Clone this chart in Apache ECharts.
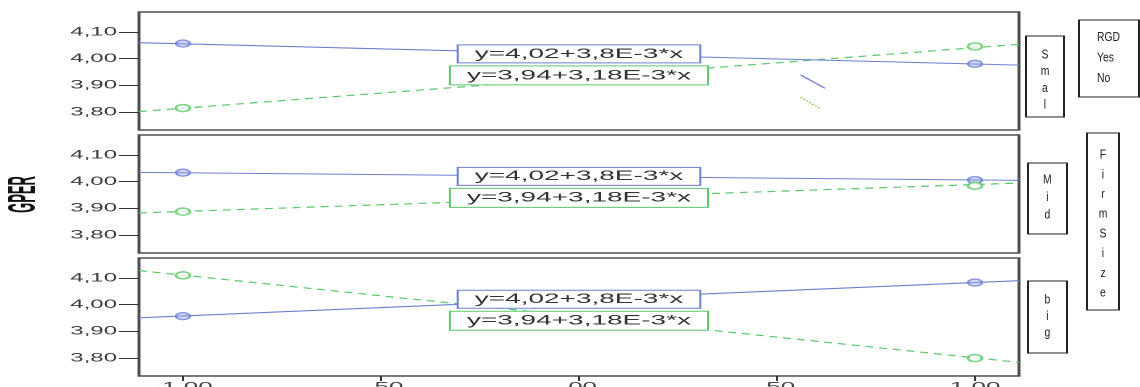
<!DOCTYPE html>
<html><head><meta charset="utf-8">
<script src="https://cdn.jsdelivr.net/npm/echarts@6/dist/echarts.min.js"></script>
<style>
html,body{margin:0;padding:0;background:#fff;overflow:hidden;}
#wrap{width:1140px;height:387px;overflow:hidden;position:relative;background:#fff;}
#chart{width:570px;height:387px;transform:scaleX(2);transform-origin:0 0;}
</style></head><body><div id="wrap"><div id="chart"></div></div>
<script>
// ---- data ----
const panelNames = ['Smal', 'Mid', 'big'];
const meanX = [-1, 1];
const xTicks = [-1, -0.5, 0, 0.5, 1];
const xTickLabels = ['-1,00', '-,50', ',00', ',50', '1,00'];
const yTicks = [3.8, 3.9, 4.0, 4.1];
const xRange = [-1.111, 1.111];
const yRange = [3.733, 4.175];
// group means (RGD Yes = blue, RGD No = green)
const smalYes = [4.057, 3.981];
const smalNo  = [3.815, 4.046];
const midYes  = [4.034, 4.006];
const midNo   = [3.888, 3.985];
const bigYes  = [3.957, 4.083];
const bigNo   = [4.110, 3.800];
// fit-line values where the lines meet the left / right frame
const smalYesFit = [4.060, 3.976];
const smalNoFit  = [3.802, 4.054];
const midYesFit  = [4.035, 4.005];
const midNoFit   = [3.883, 3.995];
const bigYesFit  = [3.951, 4.090];
const bigNoFit   = [4.128, 3.784];
const yesFitLabel = 'y=4,02+3,8E-3*x';
const noFitLabel  = 'y=3,94+3,18E-3*x';
const legendTitle = 'RGD';
const legendItems = ['Yes', 'No'];
const panelTitle = 'Firm Size';
const yName = 'GPER';

const yesMeans = [smalYes, midYes, bigYes];
const noMeans = [smalNo, midNo, bigNo];
const yesFits = [smalYesFit, midYesFit, bigYesFit];
const noFits = [smalNoFit, midNoFit, bigNoFit];

// ---- styling / layout (internal coords: x is half of the screen x) ----
const BLUE = '#6d7fd4', GREEN = '#5bc96b';
const FONT = '"Liberation Sans", Arial, sans-serif';
const gridTops = [12, 135, 258];
const chart = echarts.init(document.getElementById('chart'), null, {devicePixelRatio: 2});

const grids = [], xAxes = [], yAxes = [], series = [];
const fmtY = v => v.toFixed(2).replace('.', ',');
for (let i = 0; i < 3; i++) {
  grids.push({left: 69.5, right: 60.5, top: gridTops[i], height: 118, show: true,
    outerBoundsMode: 'none', containLabel: false,
    borderColor: '#505050', borderWidth: 1.5, backgroundColor: '#fff'});
  const last = i === 2;
  xAxes.push({type: 'value', gridIndex: i, min: xRange[0], max: xRange[1], position: 'bottom',
    splitLine: {show: false}, axisLine: {show: false, onZero: false},
    axisTick: {show: last, customValues: xTicks, length: 5, lineStyle: {color: '#333', width: 1}},
    axisLabel: {show: last, customValues: xTicks, margin: 5, fontSize: 13, color: '#444', fontFamily: FONT,
      formatter: v => xTickLabels[xTicks.indexOf(Math.round(v * 100) / 100)] || ''}});
  yAxes.push({type: 'value', gridIndex: i, min: yRange[0], max: yRange[1], position: 'left',
    splitLine: {show: false}, axisLine: {show: false, onZero: false},
    axisTick: {show: true, customValues: yTicks, length: 10, lineStyle: {color: '#333', width: 1}},
    axisLabel: {customValues: yTicks, margin: 11, fontSize: 12, color: '#3c3c3c', fontFamily: FONT,
      formatter: fmtY}});
  const yf = yesFits[i], nf = noFits[i];
  const mid = (yf[0] + yf[1]) / 2;
  series.push({name: 'Yes', type: 'line', xAxisIndex: i, yAxisIndex: i, symbol: 'none', z: 3,
    data: [[xRange[0], yf[0]], [xRange[1], yf[1]]],
    lineStyle: {color: BLUE, width: 1.1},
    markPoint: {symbol: 'circle', symbolSize: 1, itemStyle: {color: 'rgba(0,0,0,0)'}, z: 10,
      data: [
        {coord: [0, mid], label: {show: true, position: 'inside', formatter: yesFitLabel, fontSize: 14,
          fontFamily: FONT, color: '#333', backgroundColor: '#fff', borderColor: BLUE, borderWidth: 1,
          padding: [2, 8, 1, 8]}},
        {coord: [0, mid], label: {show: true, position: 'inside', offset: [0, 21.5], formatter: noFitLabel, fontSize: 14,
          fontFamily: FONT, color: '#333', backgroundColor: '#fff', borderColor: GREEN, borderWidth: 1,
          padding: [2, 8, 2, 8]}}
      ]}});
  series.push({name: 'No', type: 'line', xAxisIndex: i, yAxisIndex: i, symbol: 'none', z: 2,
    data: [[xRange[0], nf[0]], [xRange[1], nf[1]]],
    lineStyle: {color: GREEN, width: 1.2, type: [4, 3]}});
  series.push({type: 'scatter', xAxisIndex: i, yAxisIndex: i, symbol: 'circle', symbolSize: 7, z: 4,
    data: meanX.map((x, k) => [x, yesMeans[i][k]]),
    itemStyle: {color: 'rgba(150,165,230,0.55)', borderColor: BLUE, borderWidth: 1.3}});
  series.push({type: 'scatter', xAxisIndex: i, yAxisIndex: i, symbol: 'circle', symbolSize: 7, z: 4,
    data: meanX.map((x, k) => [x, noMeans[i][k]]),
    itemStyle: {color: 'rgba(255,255,255,0.9)', borderColor: GREEN, borderWidth: 1.5}});
}

const sq = 0.4; // counter-squeeze for right-hand boxes
function vText(x, y, txt, lh, size) {
  return {type: 'text', x: x, y: y, scaleX: sq, z: 20,
    style: {text: txt.split('').filter(c => c !== ' ').join('\n'), fontSize: size, lineHeight: lh,
      fontFamily: FONT, fill: '#222', align: 'center', verticalAlign: 'middle'}};
}
function box(x, y, w, h) {
  return {type: 'rect', shape: {x: x, y: y, width: w, height: h}, z: 19,
    style: {fill: '#fff', stroke: '#222', lineWidth: 1}};
}
const graphic = [
  {type: 'text', x: 12, y: 194.5, rotation: Math.PI / 2, scaleY: 1.5, z: 20,
    style: {text: yName, font: 'bold 13px ' + FONT, fill: '#111', align: 'center', verticalAlign: 'middle'}},
  box(513, 36, 19, 81), vText(522.5, 80, panelNames[0], 16.7, 13),
  box(514, 163, 19.5, 71), vText(523.7, 197.5, panelNames[1], 17.5, 13),
  box(514, 281, 19.5, 72), vText(523.7, 316.5, panelNames[2], 16.5, 13),
  box(543.5, 133, 16, 177), vText(551.5, 224, panelTitle, 19.7, 13),
  box(539.5, 20, 30, 77),
  {type: 'text', x: 548.5, y: 27, scaleX: sq, z: 20,
    style: {text: [legendTitle].concat(legendItems).join('\n'), fontSize: 13, lineHeight: 20.5,
      fontFamily: FONT, fill: '#222', align: 'left', verticalAlign: 'top'}},
  {type: 'line', z: 20, shape: {x1: 400.4, y1: 75, x2: 412.5, y2: 88.3}, style: {stroke: BLUE, lineWidth: 1}},
  {type: 'line', z: 20, shape: {x1: 400.4, y1: 97.3, x2: 410, y2: 108.3},
    style: {stroke: '#8cc850', lineWidth: 1.3, lineDash: [1, 1.2]}}
];

chart.setOption({
  animation: false,
  backgroundColor: '#fff',
  grid: grids, xAxis: xAxes, yAxis: yAxes, series: series, graphic: graphic
});
</script></body></html>
